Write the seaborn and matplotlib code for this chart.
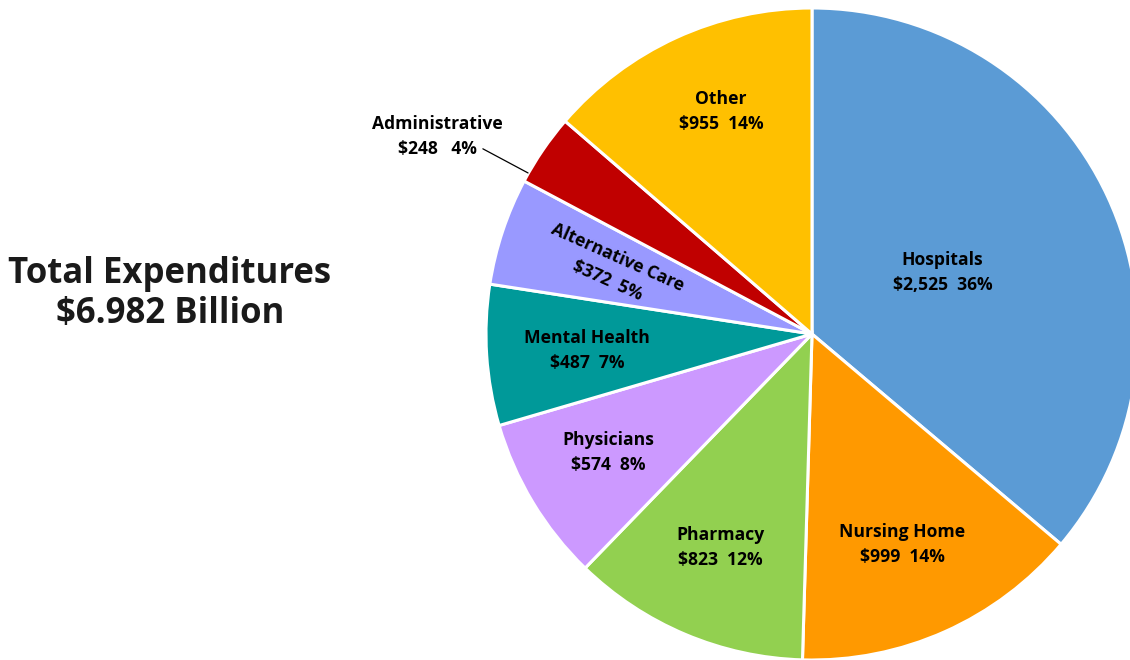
import matplotlib
matplotlib.use("Agg")
import matplotlib.pyplot as plt
import seaborn as sns

# Health expenditure categories (millions of dollars), clockwise from 12 o'clock
categories = ["Hospitals", "Nursing Home", "Pharmacy", "Physicians",
              "Mental Health", "Alternative Care", "Administrative", "Other"]
values = [2525, 999, 823, 574, 487, 372, 248, 955]
colors = ["#5B9BD5", "#FF9900", "#92D050", "#CC99FF",
          "#009999", "#9999FF", "#C00000", "#FFC000"]
total_label = "Total Expenditures\n$6.982 Billion"

sns.set_theme(style="white")
plt.rcParams["font.family"] = ["Open Sans", "DejaVu Sans"]

fig = plt.figure(figsize=(11.3, 6.6), dpi=100)
ax = fig.add_axes([486 / 1130, 0.0, 652 / 1130, 652 / 660])

wedges, _ = ax.pie(values, colors=colors, startangle=90, counterclock=False,
                   radius=1.0,
                   wedgeprops=dict(edgecolor="white", linewidth=2.2))
ax.set_xlim(-1, 1)
ax.set_ylim(-1, 1)
ax.set_aspect("equal")
ax.axis("off")

total = sum(values)
pcts = [round(v / total * 100) for v in values]

# label anchor (data coords), rotation
label_pos = {
    "Hospitals": (0.40, 0.19, 0),
    "Nursing Home": (0.276, -0.647, 0),
    "Pharmacy": (-0.282, -0.656, 0),
    "Physicians": (-0.626, -0.365, 0),
    "Mental Health": (-0.690, -0.052, 0),
    "Alternative Care": (-0.613, 0.198, -24),
    "Other": (-0.279, 0.684, 0),
}

fs = 12.6
ls = 1.5
for cat, v, p in zip(categories, values, pcts):
    txt = f"{cat}\n${v:,}  {p}%"
    if cat == "Administrative":
        ax.annotate(f"{cat}\n${v:,}   {p}%", xy=(-0.871, 0.494),
                    xytext=(-1.15, 0.605), ha="center", va="center",
                    fontsize=fs, fontweight="bold", color="black",
                    linespacing=ls, annotation_clip=False,
                    arrowprops=dict(arrowstyle="-", color="black", lw=0.9,
                                    shrinkA=0, shrinkB=0, patchA=None,
                                    relpos=(0.85, 0.22)))
        continue
    x, y, rot = label_pos[cat]
    ax.text(x, y, txt, ha="center", va="center", fontsize=fs,
            fontweight="bold", color="black", rotation=rot,
            rotation_mode="anchor", linespacing=ls)

fig.text(170 / 1130, 1 - 294 / 660, total_label, ha="center", va="center",
         fontsize=25, fontweight="bold", color="#1a1a1a", linespacing=1.12)

fig.savefig("out.png", dpi=100, facecolor="white")
